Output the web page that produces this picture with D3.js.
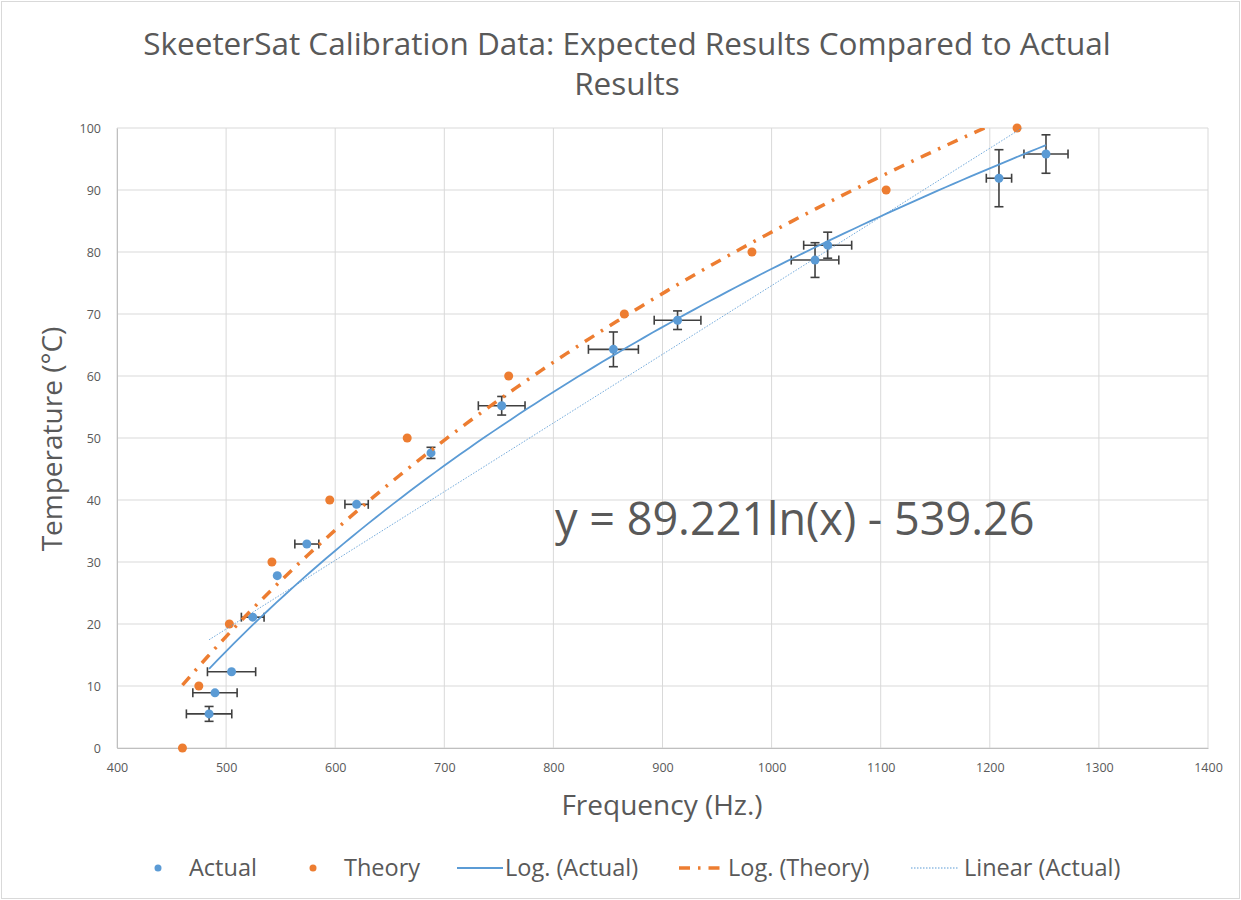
<!DOCTYPE html>
<html>
<head>
<meta charset="utf-8">
<script src="https://cdn.jsdelivr.net/npm/d3@7"></script>
<style>
  body{margin:0;background:#fff;}
  svg{display:block;font-family:"Open Sans",sans-serif;}
</style>
</head>
<body>
<svg></svg>
<script>
// data
let actualFreq=[484.4,489.8,505,524.4,546.9,574,619.6,687.8,752.6,855,913.8,1039.8,1051.4,1208.4,1251.5]
let actualTemp=[5.5,8.9,12.3,21.1,27.8,32.9,39.3,47.6,55.2,64.3,69.0,78.7,81.1,91.9,95.8]
let actualFreqErr=[20.8,20.3,22.1,10.4,0,11,10.7,0,21.4,22.9,21.4,21.8,22,11.6,20.2]
let actualTempErr=[1.2,0,0,0,0,0,0,0.9,1.5,2.8,1.5,2.8,2.1,4.6,3.1]

let theoryFreq=[460,475,503,542,595,666,759,865,982,1105,1225]
let theoryTemp=[0,10,20,30,40,50,60,70,80,90,100]

let xTicks=[400,500,600,700,800,900,1000,1100,1200,1300,1400]
let yTicks=[0,10,20,30,40,50,60,70,80,90,100]

let titleLines=['SkeeterSat Calibration Data: Expected Results Compared to Actual','Results']
let equationText='y = 89.221ln(x) - 539.26'
let legendItems=['Actual','Theory','Log. (Actual)','Log. (Theory)','Linear (Actual)']

let width=1241
let height=900
let plot={left:117,right:1208,top:128,bottom:748}

let blue='#5B9BD5'
let orange='#ED7D31'
let textGray='#595959'
let gridGray='#d9d9d9'

let svg=d3.select('svg').attr('width',width).attr('height',height)

let xScale=d3.scaleLinear().domain([400,1400]).range([plot.left,plot.right])
let yScale=d3.scaleLinear().domain([0,100]).range([plot.bottom,plot.top])

// least squares fits, the way the spreadsheet does its trendlines
let fit=(xs,ys)=>{
    let n=xs.length
    let mx=d3.mean(xs), my=d3.mean(ys)
    let sxy=0, sxx=0
    for(let i=0;i<n;i++){
        sxy+=(xs[i]-mx)*(ys[i]-my)
        sxx+=(xs[i]-mx)*(xs[i]-mx)
    }
    let a=sxy/sxx
    return {a:a,b:my-a*mx}
}
let logFit=(xs,ys)=>{
    let f=fit(xs.map(Math.log),ys)
    return x=>f.a*Math.log(x)+f.b
}
let linFit=(xs,ys)=>{
    let f=fit(xs,ys)
    return x=>f.a*x+f.b
}
let curve=(fn,x0,x1)=>d3.range(0,101).map(i=>{
    let x=x0+(x1-x0)*i/100
    return [x,fn(x)]
})

// outer border
svg.append('rect')
    .attr('x',1.5).attr('y',1.5)
    .attr('width',width-3).attr('height',height-3)
    .attr('fill','#fff').attr('stroke','#d9d9d9')

// title
svg.append('g').selectAll('text')
    .data(titleLines)
    .enter()
    .append('text')
    .attr('x',627)
    .attr('y',(d,i)=>55+i*40)
    .attr('text-anchor','middle')
    .attr('fill',textGray)
    .style('font-size','31.5px')
    .text(d=>d)

// grid
let grid=svg.append('g')
grid.selectAll('line.v')
    .data(xTicks)
    .enter()
    .append('line')
    .attr('x1',d=>xScale(d)).attr('x2',d=>xScale(d))
    .attr('y1',plot.top).attr('y2',plot.bottom)
    .attr('stroke',gridGray).attr('stroke-width',1)
grid.selectAll('line.h')
    .data(yTicks)
    .enter()
    .append('line')
    .attr('x1',plot.left).attr('x2',plot.right)
    .attr('y1',d=>yScale(d)).attr('y2',d=>yScale(d))
    .attr('stroke',gridGray).attr('stroke-width',1)

// axes
let xAxis=d3.axisBottom(xScale).tickValues(xTicks).tickSize(0).tickPadding(15).tickFormat(d3.format('d'))
let yAxis=d3.axisLeft(yScale).tickValues(yTicks).tickSize(0).tickPadding(16).tickFormat(d3.format('d'))

svg.append('g')
    .attr('id','x-axis')
    .attr('transform','translate(0,'+plot.bottom+')')
    .call(xAxis)
svg.append('g')
    .attr('id','y-axis')
    .attr('transform','translate('+plot.left+',0)')
    .call(yAxis)
svg.selectAll('#x-axis path, #y-axis path').attr('stroke','#bfbfbf')
svg.selectAll('#x-axis text, #y-axis text')
    .attr('fill',textGray)
    .style('font-family','"Open Sans",sans-serif')
    .style('font-size','12.5px')

svg.append('text')
    .attr('x',662).attr('y',815)
    .attr('text-anchor','middle')
    .attr('fill',textGray)
    .style('font-size','28px')
    .text('Frequency (Hz.)')
svg.append('text')
    .attr('transform','translate(62,439) rotate(-90)')
    .attr('text-anchor','middle')
    .attr('fill',textGray)
    .style('font-size','28px')
    .text('Temperature (°C)')

// clip for the trendlines
svg.append('clipPath').attr('id','plot-clip')
    .append('rect')
    .attr('x',plot.left).attr('y',plot.top)
    .attr('width',plot.right-plot.left).attr('height',plot.bottom-plot.top)

let actual=actualFreq.map((f,i)=>({x:f,y:actualTemp[i],ex:actualFreqErr[i],ey:actualTempErr[i]}))
let theory=theoryFreq.map((f,i)=>({x:f,y:theoryTemp[i]}))

// error bars
let errColor='#404040'
let cap=4.5
let bars=svg.append('g').attr('stroke',errColor).attr('stroke-width',1.6)
actual.forEach(d=>{
    let cx=xScale(d.x), cy=yScale(d.y)
    if(d.ex>0){
        let x0=xScale(d.x-d.ex), x1=xScale(d.x+d.ex)
        bars.append('line').attr('x1',x0).attr('x2',x1).attr('y1',cy).attr('y2',cy)
        bars.append('line').attr('x1',x0).attr('x2',x0).attr('y1',cy-cap).attr('y2',cy+cap)
        bars.append('line').attr('x1',x1).attr('x2',x1).attr('y1',cy-cap).attr('y2',cy+cap)
    }
    if(d.ey>0){
        let y0=yScale(d.y-d.ey), y1=yScale(d.y+d.ey)
        bars.append('line').attr('x1',cx).attr('x2',cx).attr('y1',y0).attr('y2',y1)
        bars.append('line').attr('x1',cx-cap).attr('x2',cx+cap).attr('y1',y0).attr('y2',y0)
        bars.append('line').attr('x1',cx-cap).attr('x2',cx+cap).attr('y1',y1).attr('y2',y1)
    }
})

// markers
svg.append('g').selectAll('circle')
    .data(actual)
    .enter()
    .append('circle')
    .attr('cx',d=>xScale(d.x)).attr('cy',d=>yScale(d.y))
    .attr('r',4.5).attr('fill',blue)
svg.append('g').selectAll('circle')
    .data(theory)
    .enter()
    .append('circle')
    .attr('cx',d=>xScale(d.x)).attr('cy',d=>yScale(d.y))
    .attr('r',4.5).attr('fill',orange)

// trendlines
let line=d3.line().x(d=>xScale(d[0])).y(d=>yScale(d[1]))
let trends=svg.append('g').attr('clip-path','url(#plot-clip)').attr('fill','none')
let xMinA=d3.min(actualFreq), xMaxA=d3.max(actualFreq)
let xMinT=d3.min(theoryFreq), xMaxT=d3.max(theoryFreq)

trends.append('path')
    .attr('d',line(curve(linFit(actualFreq,actualTemp),xMinA,xMaxA)))
    .attr('stroke',blue).attr('stroke-width',1)
    .attr('stroke-dasharray','1.5,1.5').attr('opacity',0.85)
trends.append('path')
    .attr('d',line(curve(logFit(actualFreq,actualTemp),xMinA,xMaxA)))
    .attr('stroke',blue).attr('stroke-width',1.8)
trends.append('path')
    .attr('d',line(curve(logFit(theoryFreq,theoryTemp),xMinT,xMaxT)))
    .attr('stroke',orange).attr('stroke-width',3.5)
    .attr('stroke-dasharray','11,8,2.5,8')

// equation label
svg.append('text')
    .attr('x',555).attr('y',535)
    .attr('fill',textGray)
    .style('font-size','45px')
    .text(equationText)

// legend
let legendY=868
let lg=svg.append('g').style('font-size','23.5px').attr('fill',textGray)
let legendPos=[
    {sym:158,text:189},
    {sym:313,text:344},
    {sym:[457,503],text:505},
    {sym:[679,726],text:728},
    {sym:[911,958],text:964}
]
lg.append('circle').attr('cx',legendPos[0].sym).attr('cy',legendY).attr('r',3.5).attr('fill',blue)
lg.append('circle').attr('cx',legendPos[1].sym).attr('cy',legendY).attr('r',3.5).attr('fill',orange)
lg.append('line').attr('x1',legendPos[2].sym[0]).attr('x2',legendPos[2].sym[1])
    .attr('y1',legendY).attr('y2',legendY).attr('stroke',blue).attr('stroke-width',1.8)
lg.append('line').attr('x1',legendPos[3].sym[0]).attr('x2',legendPos[3].sym[1])
    .attr('y1',legendY).attr('y2',legendY).attr('stroke',orange).attr('stroke-width',3.5)
    .attr('stroke-dasharray','11,8,2.5,8')
lg.append('line').attr('x1',legendPos[4].sym[0]).attr('x2',legendPos[4].sym[1])
    .attr('y1',legendY).attr('y2',legendY).attr('stroke',blue).attr('stroke-width',1)
    .attr('stroke-dasharray','1.5,1.5')
lg.selectAll('text')
    .data(legendItems)
    .enter()
    .append('text')
    .attr('x',(d,i)=>legendPos[i].text)
    .attr('y',legendY+8)
    .text(d=>d)
</script>
</body>
</html>
